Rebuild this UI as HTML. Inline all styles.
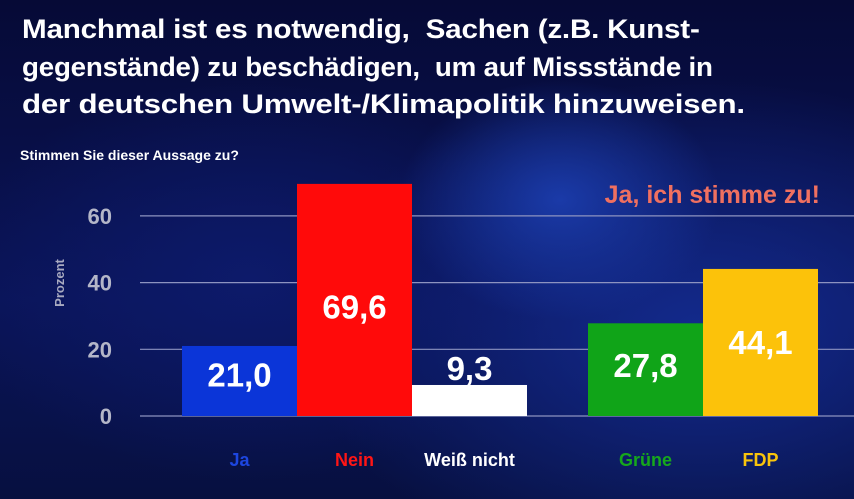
<!DOCTYPE html>
<html><head><meta charset="utf-8">
<style>
html,body{margin:0;padding:0}
body{width:854px;height:499px;overflow:hidden;font-family:"Liberation Sans",sans-serif;
background:radial-gradient(ellipse 160px 120px at 560px 200px,#1a3aa8 0%,rgba(20,40,150,0) 100%),
radial-gradient(ellipse 300px 200px at 250px 280px,#0d1a6a 0%,rgba(10,20,90,0) 100%),
radial-gradient(ellipse 400px 250px at 700px 330px,#132a8c 0%,rgba(10,20,90,0) 100%),
linear-gradient(#060a36,#0a1458 60%,#071040);position:relative}
.t{position:absolute;left:22px;top:11px;color:#fff;font-weight:bold;font-size:27px;line-height:37.5px;letter-spacing:-0.2px;white-space:nowrap}
.t span{display:block;transform-origin:0 0}
.s{position:absolute;left:20px;top:147px;color:#fff;font-weight:bold;font-size:14px}
svg{position:absolute;left:0;top:0}
</style></head><body>
<div class="t"><span style="transform:scaleX(1.097)">Manchmal ist es notwendig,&nbsp; Sachen (z.B. Kunst-</span><span style="transform:scaleX(1.027)">gegenstände) zu beschädigen,&nbsp; um auf Missstände in</span><span style="transform:scaleX(1.159)">der deutschen Umwelt-/Klimapolitik hinzuweisen.</span></div>
<div class="s">Stimmen Sie dieser Aussage zu?</div>
<svg id="c" width="854" height="499"></svg>
<script>
const categories=["Ja","Nein","Weiß nicht","Grüne","FDP"];
const values=[21.0,69.6,9.3,27.8,44.1];
const valueLabels=["21,0","69,6","9,3","27,8","44,1"];
const colors=["#0b35d8","#ff0a0a","#ffffff","#10a418","#fcc20a"];
const labelColors=["#1d46e0","#ff1515","#ffffff","#16a81c","#f8c40c"];
const ticks=[0,20,40,60];
const ns="http://www.w3.org/2000/svg",svg=document.getElementById("c");
const y=v=>416-v*3.335;
const xLeft=[182,297,412,588,703],bw=115;
function el(t,a){const e=document.createElementNS(ns,t);for(const k in a)e.setAttribute(k,a[k]);svg.appendChild(e);return e;}
ticks.forEach(t=>{
 const l=el("line",{x1:140,x2:854,y1:y(t),y2:y(t),stroke:"#8d93c0","stroke-width":1.2});
 
 
 const tx=el("text",{x:112,y:y(t)+8,"text-anchor":"end",fill:"#b4b6c8","font-size":22,"font-weight":"bold","font-family":"Liberation Sans,sans-serif"});
 tx.textContent=t;
 
 
});
const yt=el("text",{x:0,y:0,transform:"translate(64,283) rotate(-90)","text-anchor":"middle",fill:"#a8aac0","font-size":13,"font-weight":"bold","font-family":"Liberation Sans,sans-serif"});
yt.textContent="Prozent";


values.forEach((v,i)=>{
 const r=el("rect",{x:xLeft[i],y:y(v),width:bw,height:416-y(v),fill:colors[i]});
 
 
 const h=416-y(v);
 const inside=h>50;
 const ty=inside?416-0.42*h:y(v)-5;
 const tv=el("text",{x:xLeft[i]+bw/2,y:ty,"text-anchor":"middle",fill:"#fff","font-size":33,"font-weight":"bold","font-family":"Liberation Sans,sans-serif"});
 tv.textContent=valueLabels[i];
 
 
 const tl=el("text",{x:xLeft[i]+bw/2,y:466,"text-anchor":"middle",fill:labelColors[i],"font-size":18,"font-weight":"bold","font-family":"Liberation Sans,sans-serif"});
 tl.textContent=categories[i];
 
 
});
const note=el("text",{x:820,y:203,"text-anchor":"end",fill:"#f07060","font-size":25,"font-weight":"bold","font-family":"Liberation Sans,sans-serif"});
note.textContent="Ja, ich stimme zu!";


</script>
</body></html>
